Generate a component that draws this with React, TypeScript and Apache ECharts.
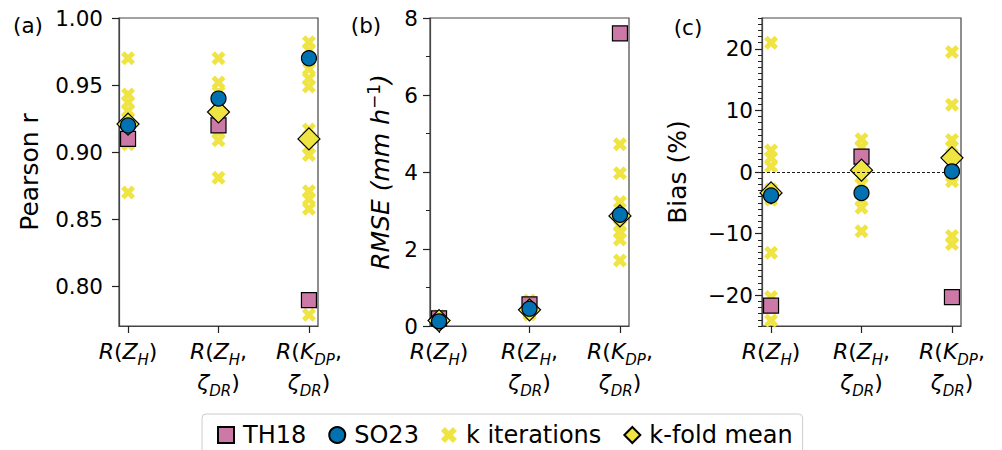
import React, { useEffect, useRef } from "react";
import * as echarts from "echarts";

const FONT = "DejaVu Sans";
const PINK = "#CC79A7";
const BLUE = "#0072B2";
const YELLOW = "#F0E442";
const XPATH = "path://M1.5,0L3,1.5L4.5,0L6,1.5L4.5,3L6,4.5L4.5,6L3,4.5L1.5,6L0,4.5L1.5,3L0,1.5Z";

// categories (rich-text tick labels)
const categories = ["R(Z_H)", "R(Z_H, ζ_DR)", "R(K_DP, ζ_DR)"];
const categoryLabels = [
  "{i|R}{n|(}{i|Z}{s|H}{n|)}",
  "{i|R}{n|(}{i|Z}{s|H}{n|,}\n{i|ζ}{s|DR}{n|)}",
  "{i|R}{n|(}{i|K}{s|DP}{n|,}\n{i|ζ}{s|DR}{n|)}",
];

// (a) Pearson r
const pearsonTicks = [0.8, 0.85, 0.9, 0.95, 1.0];
const pearsonTH18 = [0.91, 0.92, 0.79];
const pearsonSO23 = [0.92, 0.94, 0.97];
const pearsonMean = [0.921, 0.93, 0.91];
const pearsonIter = [
  [0.97, 0.943, 0.937, 0.931, 0.925, 0.918, 0.912, 0.906, 0.87],
  [0.97, 0.952, 0.945, 0.935, 0.928, 0.92, 0.915, 0.909, 0.881],
  [0.982, 0.976, 0.962, 0.955, 0.949, 0.917, 0.904, 0.898, 0.871, 0.865, 0.858, 0.779],
];

// (b) RMSE
const rmseTH18 = [0.2, 0.56, 7.6];
const rmseSO23 = [0.12, 0.45, 2.89];
const rmseMean = [0.14, 0.42, 2.86];
const rmseIter = [
  [0.1, 0.14, 0.18, 0.22, 0.26],
  [0.3, 0.35, 0.42, 0.5, 0.6, 0.66],
  [4.72, 3.97, 3.22, 2.6, 2.45, 2.25, 1.7],
];

// (c) Bias
const biasTicks = [-20, -10, 0, 10, 20];
const biasReference = 0;
const biasTH18 = [-21.7, 2.5, -20.3];
const biasSO23 = [-3.8, -3.4, 0.1];
const biasMean = [-3.4, 0.3, 2.3];
const biasIter = [
  [21, 3.5, 2.3, 0.9, -2.8, -4.5, -13.1, -20.3, -24.1],
  [5.3, 4.0, 2.0, -0.8, -2.0, -4.5, -5.8, -9.6],
  [19.5, 10.9, 5.2, 4.0, -0.7, -1.5, -10.4, -11.7],
];

const gridLefts = [119, 430, 762];
const GRID_W = 199;
const GRID_TOP = 18;
const GRID_H = 308;

const rich = {
  i: { fontFamily: FONT, fontStyle: "italic", fontSize: 22, lineHeight: 31, color: "#000" },
  n: { fontFamily: FONT, fontSize: 22, lineHeight: 31, color: "#000" },
  s: { fontFamily: FONT, fontStyle: "italic", fontSize: 15, lineHeight: 18, verticalAlign: "bottom", color: "#000" },
};

function fmtMinus(v: number) {
  return v < 0 ? "\u2212" + Math.abs(v) : String(v);
}

function panelSeries(g: number, yIdx: number, th: number[], so: number[], mean: number[], iter: number[][]) {
  const pts = (arr: number[]) => arr.map((v, i) => [i, v]);
  return [
    {
      name: "k iterations", type: "scatter", xAxisIndex: g, yAxisIndex: yIdx, clip: false,
      data: iter.flatMap((vals, i) => vals.map((v) => [i, v])),
      symbol: XPATH, symbolSize: 14, itemStyle: { color: YELLOW, opacity: 1 }, z: 2,
    },
    {
      name: "TH18", type: "scatter", xAxisIndex: g, yAxisIndex: yIdx, clip: false, data: pts(th),
      symbol: "rect", symbolSize: 15, itemStyle: { color: PINK, borderColor: "#000", borderWidth: 1.2, opacity: 1 }, z: 3,
    },
    {
      name: "k-fold mean", type: "scatter", xAxisIndex: g, yAxisIndex: yIdx, clip: false, data: pts(mean),
      symbol: "diamond", symbolSize: 22, itemStyle: { color: YELLOW, borderColor: "#000", borderWidth: 1.2, opacity: 1 }, z: 4,
    },
    {
      name: "SO23", type: "scatter", xAxisIndex: g, yAxisIndex: yIdx, clip: false, data: pts(so),
      symbol: "circle", symbolSize: 15, itemStyle: { color: BLUE, borderColor: "#000", borderWidth: 1.2, opacity: 1 }, z: 5,
    },
  ];
}

const axisLineStyle = { color: "#444", width: 1.2 };
const tickStyle = { color: "#222", width: 1.2 };

export default function App() {
  const ref = useRef<HTMLDivElement>(null);
  useEffect(() => {
    if (!ref.current) return;
    const chart = echarts.init(ref.current, null, { renderer: "svg" });
    const xAxes = gridLefts.map((_, g) => ({
      gridIndex: g, type: "value", min: -0.1, max: 2.1,
      axisLine: { show: true, onZero: false, lineStyle: axisLineStyle },
      axisTick: { show: true, customValues: [0, 1, 2], length: 7, lineStyle: tickStyle },
      axisLabel: {
        customValues: [0, 1, 2], margin: 10, rich, align: "center",
        formatter: (v: number) => categoryLabels[Math.round(v)] ?? "",
      },
      splitLine: { show: false },
    }));
    const labelBase = { fontFamily: FONT, fontSize: 21.5, color: "#000" };
    const yAxes = [
      {
        gridIndex: 0, type: "value", min: 0.7707, max: 1.0,
        axisLine: { show: true, onZero: false, lineStyle: axisLineStyle },
        axisTick: { show: true, customValues: pearsonTicks, length: 7, lineStyle: tickStyle },
        axisLabel: { ...labelBase, customValues: pearsonTicks, margin: 16, formatter: (v: number) => v.toFixed(2) },
        splitLine: { show: false },
      },
      {
        gridIndex: 1, type: "value", min: 0, max: 8, interval: 2,
        axisLine: { show: true, onZero: false, lineStyle: axisLineStyle },
        axisTick: { show: true, length: 7, lineStyle: tickStyle },
        minorTick: { show: true, splitNumber: 2, length: 4, lineStyle: { color: "#222", width: 1 } },
        axisLabel: { ...labelBase, margin: 12 },
        splitLine: { show: false }, minorSplitLine: { show: false },
      },
      {
        gridIndex: 2, type: "value", min: -25, max: 25,
        axisLine: { show: true, onZero: false, lineStyle: axisLineStyle },
        axisTick: { show: true, customValues: biasTicks, length: 7, lineStyle: tickStyle },
        axisLabel: { ...labelBase, customValues: biasTicks, margin: 9, formatter: fmtMinus },
        splitLine: { show: false },
      },
      {
        gridIndex: 2, type: "value", min: -25, max: 25, interval: 1, position: "left",
        axisLine: { show: false, onZero: false },
        axisTick: { show: true, length: 4, lineStyle: { color: "#222", width: 1 } },
        axisLabel: { show: false },
        splitLine: { show: false },
      },
    ];
    const series: any[] = [
      ...panelSeries(0, 0, pearsonTH18, pearsonSO23, pearsonMean, pearsonIter),
      ...panelSeries(1, 1, rmseTH18, rmseSO23, rmseMean, rmseIter),
      ...panelSeries(2, 2, biasTH18, biasSO23, biasMean, biasIter),
      {
        name: "zero", type: "scatter", xAxisIndex: 2, yAxisIndex: 2, data: [], z: 1,
        markLine: {
          silent: true, symbol: "none", animation: false,
          label: { show: false },
          lineStyle: { color: "#000", type: [3, 2], width: 0.9 },
          data: [{ yAxis: biasReference }],
        },
      },
    ];
    const rot = Math.PI / 2;
    chart.setOption({
      animation: false,
      textStyle: { fontFamily: FONT },
      grid: gridLefts.map((l) => ({
        left: l, top: GRID_TOP, width: GRID_W, height: GRID_H,
        show: true, borderColor: "#444", borderWidth: 1.2, backgroundColor: "transparent",
      })),
      xAxis: xAxes,
      yAxis: yAxes,
      legend: {
        left: 202, top: 414, orient: "horizontal",
        padding: [9, 10, 8, 15], itemGap: 22, itemWidth: 16, itemHeight: 16,
        borderColor: "#ccc", borderWidth: 1, borderRadius: 4,
        textStyle: { fontFamily: FONT, fontSize: 24, color: "#000", padding: [0, 0, 0, 4] },
        data: [
          { name: "TH18", icon: "rect" },
          { name: "SO23", icon: "circle" },
          { name: "k iterations", icon: XPATH },
          { name: "k-fold mean", icon: "diamond" },
        ],
      },
      graphic: [
        { type: "text", x: 28, y: 25, style: { text: "(a)", fontFamily: FONT, fontSize: 21.5, fill: "#000", align: "center", verticalAlign: "middle" } },
        { type: "text", x: 366, y: 25, style: { text: "(b)", fontFamily: FONT, fontSize: 21.5, fill: "#000", align: "center", verticalAlign: "middle" } },
        { type: "text", x: 688, y: 27, style: { text: "(c)", fontFamily: FONT, fontSize: 21.5, fill: "#000", align: "center", verticalAlign: "middle" } },
        { type: "text", x: 29, y: 172, rotation: rot, style: { text: "Pearson r", fontFamily: FONT, fontSize: 25, fill: "#000", align: "center", verticalAlign: "middle" } },
        {
          type: "text", x: 380, y: 172, rotation: rot,
          style: {
            text: "{i|RMSE (mm h}{p|\u22121}{i|)}", align: "center", verticalAlign: "middle",
            rich: {
              i: { fontFamily: FONT, fontStyle: "italic", fontSize: 25, lineHeight: 30, fill: "#000" },
              p: { fontFamily: FONT, fontSize: 17, lineHeight: 14, verticalAlign: "top", fill: "#000" },
            },
          },
        },
        { type: "text", x: 677, y: 172, rotation: rot, style: { text: "Bias (%)", fontFamily: FONT, fontSize: 25, fill: "#000", align: "center", verticalAlign: "middle" } },
      ],
      series,
    });
    return () => chart.dispose();
  }, []);
  return <div ref={ref} style={{ position: "absolute", left: 0, top: 0, width: 1002, height: 450 }} />;
}
